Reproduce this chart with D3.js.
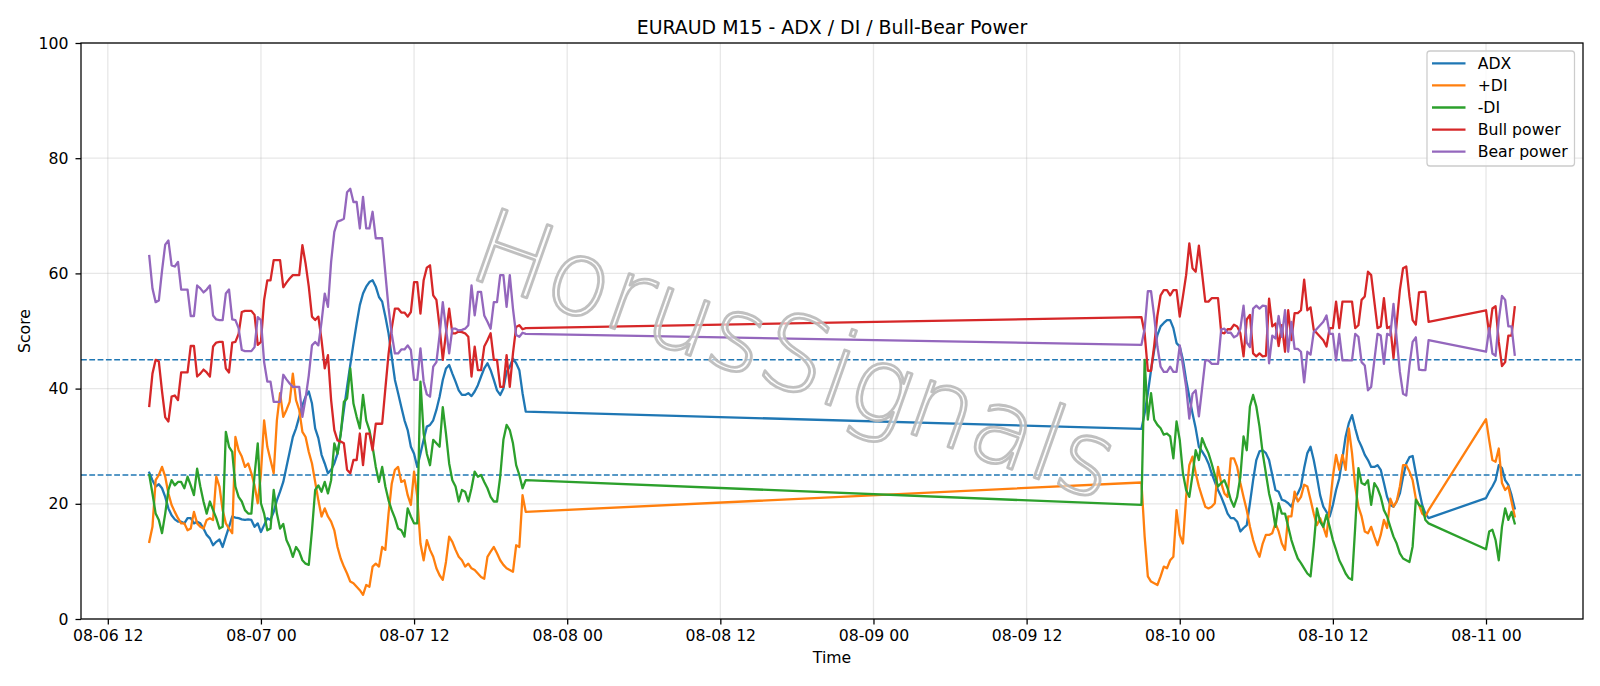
<!DOCTYPE html>
<html><head><meta charset="utf-8">
<script src="https://cdn.jsdelivr.net/npm/d3@7"></script>
<style>
body{margin:0;background:#fff;}
svg{display:block;font-family:"DejaVu Sans",sans-serif;}
</style>
</head><body>
<svg id="chart" width="1600" height="686"></svg>
<script>
// ---- data ----
// three runs of consecutive 15-minute bars (UTC)
const segmentStarts = ["2020-08-06T15:15:00Z", "2020-08-09T21:00:00Z", "2020-08-11T00:00:00Z"];
const segmentCounts = [119, 91, 10];

const adx = [
 25.4,24.1,23,23.4,22.7,21.2,19.2,18,17.3,16.9,
 16.9,16.6,17.5,17.5,16.6,16.9,16.6,15.7,14.6,14,
 12.8,13.4,13.8,12.5,14.3,16,17.8,17.6,17.5,17.3,
 17.2,17.3,17.2,16,16.6,15.1,16.3,17.5,17.2,18.6,
 20.6,22.1,23.8,26.4,29,31.6,33.1,35.1,37.1,38.6,
 39.5,37.4,33.1,31.4,28.5,27,25.3,25.9,27,28.7,
 32.2,36.3,40.3,44.1,47.8,51.3,54.5,56.5,57.7,58.5,
 58.8,57.7,55.9,55.1,52.5,49.6,45.5,41.5,39.2,36.8,
 34.5,32.8,29.9,28.7,26.4,28.7,31.1,33.4,33.7,34.5,
 36.3,38.6,41.5,43.5,44.1,42.6,41.2,39.7,38.9,38.9,
 39.2,38.7,39.5,40.6,42.1,43.5,44.4,43.2,41.5,39.7,
 38.9,40,42.9,43.8,45.2,44.4,43.2,39.2,36,
 33,35.7,39.2,43.2,46.7,49.3,50.8,51.4,51.9,51.9,
 50.5,47.9,47.3,45,41.5,38.6,35.7,33.1,29.9,29.1,
 28.2,27,25.3,23.8,22.4,21.2,19.8,18.3,17.5,17.5,
 16.9,15.2,15.8,16.3,20.1,24.1,27.6,29.1,29.3,28.8,
 27.6,25,22.4,22.1,20.7,20.5,20.1,19.5,21,21.8,
 23,26.2,28.8,29.9,27.6,24.7,21.5,19.5,18.6,17.8,
 19.8,22.4,24.4,27.9,31.7,34,35.4,33.1,31.1,29.9,
 28.5,27.6,26.4,26.4,26.7,25.9,23.6,21.2,19.8,19.5,
 20.4,21.8,24.7,27,28.1,28.3,25.3,22.4,19.8,18.3,
 17.5,
 21,22.1,23,24.1,26.7,26.2,24.1,23.3,21.5,19.2
];
const plusDI = [
 13.4,16,24.1,25,26.4,24.7,21.8,19.8,18.6,17.5,
 16.6,16.6,15.4,15.7,18.6,16.6,16,15.7,17.2,17.5,
 17.2,24.7,23,18.9,16.6,15.7,14.9,31.6,29.3,28.2,
 26.4,27,25.3,23.2,20.1,25.3,34.5,29.9,27.6,25.3,
 34.5,39.2,35.1,36.3,37.7,42.6,38,36.3,32.5,31.6,
 29,27,23.8,20.6,17.8,19.2,17.8,16.9,15.4,12.5,
 10.5,9.1,7.9,6.5,6.2,5.6,5,4.2,5.9,5.6,
 9.1,9.6,9.1,12.5,12,18.3,23.5,25.9,26.4,23.8,
 24.1,21.5,19.8,25.6,21.2,13.1,10.2,13.7,12,10.8,
 8.8,7.6,6.8,9.9,14.3,13.4,12,10.8,10.2,9.1,
 9.6,8.8,8.5,7.9,7.3,7,10.8,11.7,12.5,11.4,
 10.2,9.4,8.8,8.5,8.2,12.8,12.5,21.5,18.6,
 23.7,14.3,7.4,6.5,6.2,5.9,7.4,9.1,8.8,10.2,
 10.8,18.9,14.6,13.1,21.2,26.7,28.2,25.3,23,21.2,
 19.5,19.2,19.5,20.1,26.4,23.6,21.8,21.2,27.9,27.9,
 26.4,23.6,21.2,18.9,16,13.7,12,10.8,13.1,14.6,
 14.6,14.9,16.6,15.2,13.1,12,17.8,17.8,22.1,20.4,
 21.2,23.3,23,20.7,18.3,16.3,17.5,16,14.3,19.5,
 24.7,28.5,25.9,28.5,25.9,33.1,28.8,23,19.5,17.8,
 15.2,14.9,16,14.3,12.8,14.6,17.2,15.8,20.9,19.5,
 20.4,23,26.7,26.7,25.6,24.1,20.9,19.8,18.3,17.8,
 18.9,
 34.7,31,27.6,27.3,29.6,23.6,22.4,23,20.4,17.8
];
const minusDI = [
 25,21.8,18.3,17.2,14.9,18.3,22.4,24.1,23.2,23.8,
 23.8,22.7,24.7,23.2,21.5,26.1,23,20.4,18.3,20.4,
 18.9,17.5,15.7,16,32.5,29.9,29,23,21.2,20.4,
 18.9,18.3,18.3,25,30.5,20.1,18.3,15.4,15.7,22.4,
 18.3,15.7,16.5,13.7,12.5,10.8,12.5,11.7,10.2,9.6,
 9.4,15.4,22.4,23.2,22.1,23.8,21.8,24.1,30.5,28.7,
 32,37.7,38.3,43.5,37.4,35.1,33.1,38.9,34.5,32.8,
 29.9,26.4,23.8,26.4,23,20.6,18.9,17.5,15.7,15.4,
 14.3,19.2,17.8,16.6,16.6,41.2,32.2,28.7,26.7,31.1,
 30.5,29.9,36.8,32.2,27,24.1,23,20.4,22.4,22.1,
 20.4,22.7,25.6,24.7,25,23.8,22.7,21.2,20.4,20.4,
 24.7,31.1,33.7,32.8,30.5,26.7,25,22.7,24.1,
 19.8,45,34.6,39.2,34.6,33.7,33.1,32,32.2,31.7,
 27.9,34.3,31.1,25.3,22.4,21.2,25,29.3,27.6,31.4,
 30,28.8,27,25,23,23.6,24.1,22.7,20.7,19.5,
 21.2,24.7,31.7,29.3,36.9,38.9,36.9,33.4,28.8,25.3,
 21.8,19.5,16,20.1,18.3,18.3,16,13.7,12,10.5,
 9.7,8.8,7.9,7.4,12.8,19.2,16.9,16,18.1,16,
 13.7,12,10.2,9.1,7.9,7.1,6.8,16,26.2,23.6,
 23.3,24.1,19.8,23.6,22.7,21.2,18.9,17.8,16,14.3,
 13.1,11.4,10.5,10.2,9.9,12.6,20.7,19.8,19.5,17.2,
 16.6,
 12.1,15.2,15.5,13.7,10.2,16,19.2,17.2,18.6,16.6
];
const bullPower = [
 37,42.6,45,44.7,39.5,35,34.3,38.6,38.8,38,
 42.8,42.8,42.8,47.4,47.4,42.1,42.6,43.3,42.8,42.1,
 47.3,48,48.1,48.1,43.5,42.8,48,48.1,49.5,53.3,
 53.5,53.5,53.5,52.8,47.6,48.1,55.4,58.8,58.8,62.3,
 62.3,62.3,57.6,58.4,59.1,59.7,59.7,59.7,64.9,61.7,
 57.7,52.5,51.9,52.5,48.4,43.5,45.8,38,32.8,31,
 30.8,30.5,25.9,25.3,27.6,27.6,32.2,26.7,32.2,32.2,
 29.3,33.9,33.9,33.9,40,46,50.5,53.9,53.9,53.2,
 53.2,52.5,53.3,58.5,58.5,53,58.8,61,61.4,56.2,
 55.4,50.7,45,49.6,53.9,49.6,49.6,49.9,49.8,49.6,
 49,42.1,47.3,43.2,43.2,47.3,48.4,49.6,45,45,
 40.3,40.3,45.8,40.3,46.1,50.7,51,50.3,50.5,
 52.4,49.6,43.1,43.1,47.5,52.7,56.2,57.1,57.1,56.2,
 57.1,57.1,52.5,56,59.7,65.2,60.9,60.3,64.8,60,
 55.1,55.1,55.7,55.7,55.7,49.7,49.6,50.3,50.3,51.1,
 50.8,49.6,45.6,52,52.8,46.1,45.6,46.1,45.6,45.7,
 55.6,50.8,51.3,47.4,51,46.4,53.6,48.4,53.1,53.1,
 53.6,58.9,53.6,54.1,50.2,49.6,49,48.4,47.3,50.5,
 50.5,55.1,50.5,55.1,55.1,55.1,55.1,50.5,51,55.4,
 56,60.3,59.7,55.1,50.5,50.8,55.7,50.5,50.8,45.3,
 51.3,57.1,60.9,61.2,56,51.9,51.1,56.7,56.8,56.8,
 51.6,
 53.6,49.5,53.9,54.3,48.1,43.9,44.6,49.2,49.2,54.1
];
const bearPower = [
 63,57.4,55,55.3,60.5,65,65.7,61.4,61.2,62,
 57.2,57.2,57.2,52.6,52.6,57.9,57.4,56.7,57.2,57.9,
 52.7,52,51.9,51.9,56.5,57.2,52,51.9,50.5,46.7,
 46.5,46.5,46.5,47.2,52.4,51.9,44.6,41.2,41.2,37.7,
 37.7,37.7,42.4,41.6,40.9,40.3,40.3,40.3,35.1,38.3,
 42.3,47.5,48.1,47.5,51.6,56.5,54.2,62,67.2,69,
 69.2,69.5,74.1,74.7,72.4,72.4,67.8,73.3,67.8,67.8,
 70.7,66.1,66.1,66.1,60,54,49.5,46.1,46.1,46.8,
 46.8,47.5,46.7,41.5,41.5,47,41.2,39,38.6,43.8,
 44.6,49.3,55,50.4,46.1,50.4,50.4,50.1,50.2,50.4,
 51,57.9,52.7,56.8,56.8,52.7,51.6,50.4,55,55,
 59.7,59.7,54.2,59.7,53.9,49.3,49,49.7,49.5,
 47.6,50.4,56.9,56.9,52.5,47.3,43.8,42.9,42.9,43.8,
 42.9,42.9,47.5,44,40.3,34.8,39.1,39.7,35.2,40,
 44.9,44.9,44.3,44.3,44.3,50.3,50.4,49.7,49.7,48.9,
 49.2,50.4,54.4,48,47.2,53.9,54.4,53.9,54.4,54.3,
 44.4,49.2,48.7,52.6,49,53.6,46.4,51.6,46.9,46.9,
 46.4,41.1,46.4,45.9,49.8,50.4,51,51.6,52.7,49.5,
 49.5,44.9,49.5,44.9,44.9,44.9,44.9,49.5,49,44.6,
 44,39.7,40.3,44.9,49.5,49.2,44.3,49.5,49.2,54.7,
 48.7,42.9,39.1,38.8,44,48.1,48.9,43.3,43.2,43.2,
 48.4,
 46.4,50.5,46.1,45.7,51.9,56.1,55.4,50.8,50.8,45.9
];
const thresholds = [45, 25];
const yTickValues = [0, 20, 40, 60, 80, 100];
const seriesNames = ["ADX", "+DI", "-DI", "Bull power", "Bear power"];
const seriesColors = ["#1f77b4", "#ff7f0e", "#2ca02c", "#d62728", "#9467bd"];
const titleText = "EURAUD M15 - ADX / DI / Bull-Bear Power";
const xLabel = "Time", yLabel = "Score", watermark = "HorusSignals";

// ---- build timestamps ----
const STEP = 15 * 60 * 1000;
const times = [];
segmentStarts.forEach((s, k) => {
  const t0 = Date.parse(s);
  for (let j = 0; j < segmentCounts[k]; j++) times.push(new Date(t0 + j * STEP));
});
const seriesData = [adx, plusDI, minusDI, bullPower, bearPower];

// ---- layout ----
const M = {l: 81, r: 1583, t: 43, b: 619};
const svg = d3.select("#chart");
const tMin = times[0].getTime(), tMax = times[times.length - 1].getTime();
const pad = (tMax - tMin) * 0.05;
const x = d3.scaleUtc().domain([new Date(tMin - pad), new Date(tMax + pad)]).range([M.l, M.r]);
const y = d3.scaleLinear().domain([0, 100]).range([M.b, M.t]);
const xTicks = d3.utcHour.every(12).range(x.domain()[0], x.domain()[1]);

// grid
const grid = svg.append("g").attr("stroke", "#b0b0b0").attr("stroke-opacity", 0.3).attr("stroke-width", 1.26);
grid.selectAll("line.v").data(xTicks).enter().append("line")
  .attr("x1", d => x(d)).attr("x2", d => x(d)).attr("y1", M.t).attr("y2", M.b);
grid.selectAll("line.h").data(yTickValues).enter().append("line")
  .attr("x1", M.l).attr("x2", M.r).attr("y1", d => y(d)).attr("y2", d => y(d));

// threshold lines
svg.append("g").selectAll("line").data(thresholds).enter().append("line")
  .attr("x1", M.l).attr("x2", M.r).attr("y1", d => y(d)).attr("y2", d => y(d))
  .attr("stroke", "#1f77b4").attr("stroke-width", 1.57).attr("stroke-dasharray", "5.8,2.5");

// series lines
const line = d3.line().x((d, i) => x(times[i])).y(d => y(d));
svg.append("g").selectAll("path").data(seriesData).enter().append("path")
  .attr("d", d => line(d)).attr("fill", "none")
  .attr("stroke", (d, i) => seriesColors[i]).attr("stroke-width", 2.3)
  .attr("stroke-linejoin", "round").attr("stroke-linecap", "square");

// axes
const xAxis = d3.axisBottom(x).tickValues(xTicks).tickFormat(d3.utcFormat("%m-%d %H"))
  .tickSize(5.5).tickPadding(5.5).tickSizeOuter(0);
const gx = svg.append("g").attr("transform", `translate(0,${M.b})`).call(xAxis);
const yAxis = d3.axisLeft(y).tickValues(yTickValues).tickFormat(d3.format("d"))
  .tickSize(5.5).tickPadding(7).tickSizeOuter(0);
const gy = svg.append("g").attr("transform", `translate(${M.l},0)`).call(yAxis);
[gx, gy].forEach(g => {
  g.select(".domain").remove();
  g.selectAll(".tick line").attr("stroke", "#000").attr("stroke-width", 1.26);
  g.selectAll(".tick text").attr("fill", "#000").style("font-size", "15.7px")
    .style("font-family", "'DejaVu Sans', sans-serif");
});

// spines
svg.append("rect").attr("x", M.l).attr("y", M.t).attr("width", M.r - M.l).attr("height", M.b - M.t)
  .attr("fill", "none").attr("stroke", "#000").attr("stroke-width", 1.26);

// labels
svg.append("text").attr("x", (M.l + M.r) / 2).attr("y", 33.5).attr("text-anchor", "middle")
  .style("font-size", "18.9px").text(titleText);
svg.append("text").attr("x", (M.l + M.r) / 2).attr("y", 663).attr("text-anchor", "middle")
  .style("font-size", "15.7px").text(xLabel);
svg.append("text").attr("transform", `translate(30,${(M.t + M.b) / 2}) rotate(-90)`)
  .attr("text-anchor", "middle").style("font-size", "15.7px").text(yLabel);

// legend
const lg = svg.append("g");
lg.append("rect").attr("x", 1427).attr("y", 51).attr("width", 147.5).attr("height", 115).attr("rx", 3)
  .attr("fill", "#fff").attr("fill-opacity", 0.8).attr("stroke", "#cccccc").attr("stroke-width", 1.26);
seriesNames.forEach((name, i) => {
  const yy = 63.3 + i * 22.1;
  lg.append("line").attr("x1", 1432).attr("x2", 1465.5).attr("y1", yy).attr("y2", yy)
    .attr("stroke", seriesColors[i]).attr("stroke-width", 2.3);
  lg.append("text").attr("x", 1477.7).attr("y", yy).attr("dy", "0.36em")
    .style("font-size", "15.7px").text(name);
});

// watermark (outlined, semi-transparent)
svg.append("text").attr("transform", "translate(792,364) rotate(19.5)")
  .attr("text-anchor", "middle").attr("dy", "0.25em")
  .style("font-size", "104px").style("font-family", "'DejaVu Sans', sans-serif")
  .style("font-weight", "200")
  .attr("fill", "#ffffff").attr("fill-opacity", 0.6)
  .attr("stroke", "#b9b9b9").attr("stroke-opacity", 0.9).attr("stroke-width", 2.8)
  .attr("stroke-linejoin", "round")
  .text(watermark);
</script>
</body></html>
